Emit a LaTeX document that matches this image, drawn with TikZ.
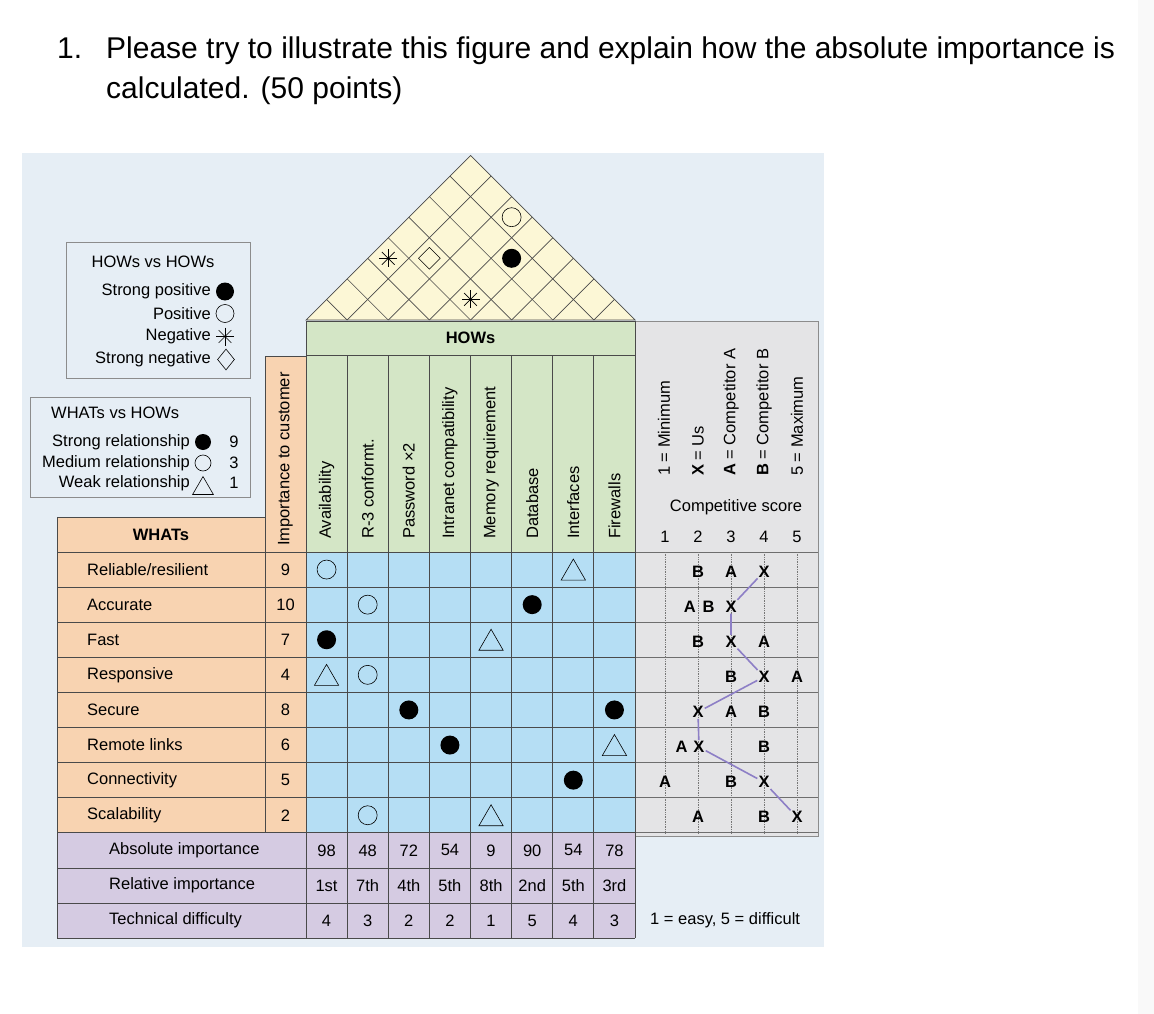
\documentclass[tikz,border=0pt]{standalone}
\usepackage{fontspec}
\setmainfont{Liberation Sans}
\usetikzlibrary{shapes.geometric}

\definecolor{pagebg}{HTML}{E6EEF5}
\definecolor{sidegray}{HTML}{F9F9F9}
\definecolor{roofyellow}{HTML}{FCF7D6}
\definecolor{howgreen}{HTML}{D4E6C6}
\definecolor{whatorange}{HTML}{F8D3B1}
\definecolor{cellblue}{HTML}{B5DEF4}
\definecolor{rowpurple}{HTML}{D5CBE2}
\definecolor{scoregray}{HTML}{E4E4E6}
\definecolor{gridline}{HTML}{4A4A4A}
\definecolor{boxgray}{HTML}{8C8C8C}
\definecolor{scorepurple}{HTML}{8D7FC6}

% column / row centres of the house (picture units = pixels)
\newcommand{\howcol}[1]{(306+41.125*(#1-0.5))}
\newcommand{\whatrow}[1]{(552+35.1*(#1-0.5))}
\newcommand{\scorecol}[1]{(665+33*(#1-1))}
\newcommand{\roofx}[2]{(306+41.125*(#1+#2-1)/2)}
\newcommand{\roofy}[2]{(320-20.5625*(#2-#1))}

\begin{document}
\begin{tikzpicture}[
    x=1pt, y=-1pt,
    font=\fontsize{16.5}{19}\selectfont,
    every node/.style={inner sep=1pt},
    title/.style={font=\fontsize{30}{34}\selectfont, anchor=base west, inner sep=0pt},
    hoqline/.style={draw=gridline, line width=0.8pt},
    roofline/.style={draw=gridline, line width=0.7pt},
    compline/.style={draw=gridline!80, line width=0.8pt},
    dotcol/.style={draw=gridline!75, densely dotted, line width=0.7pt},
    legbox/.style={draw=boxgray, fill=pagebg, line width=0.9pt},
    headtxt/.style={rotate=90, anchor=west},
    strongrel/.style={circle, fill=black, minimum size=19pt, inner sep=0pt},
    mediumrel/.style={circle, draw, line width=0.6pt, minimum size=19pt, inner sep=0pt},
    weakrel/.style={regular polygon, regular polygon sides=3, draw, line width=0.6pt,
                    minimum size=28pt, inner sep=0pt, yshift=-3.5pt},
    corrneg/.style={circle, minimum size=20pt, inner sep=0pt,
                    path picture={\foreach \a in {0,45,90,135}
                      \draw[line width=0.7pt] ([shift={(\a:9pt)}]path picture bounding box.center)
                        -- ([shift={(\a+180:9pt)}]path picture bounding box.center);}},
    corrstrongneg/.style={diamond, draw, line width=0.6pt, minimum size=22pt, inner sep=0pt},
    scoreletter/.style={font=\fontsize{16.5}{19}\selectfont\bfseries, inner sep=1pt},
    scoreline/.style={draw=scorepurple, line width=1.6pt},
  ]

  % ===== page and question =====
  \fill[white] (0,0) rectangle (1154,1014);
  \fill[sidegray] (1138,0) rectangle (1154,1014);
  \node[title] (qnum)  at (57,59)  {1.};
  \node[title] (qline) at (106,59) {Please try to illustrate this figure and explain how the absolute importance is};
  \node[title] (qrest) at (106,99) {calculated. (50 points)};

  % ===== figure background =====
  \fill[pagebg] (22,153) rectangle (824,947);

  % ===== legends =====
  \draw[legbox] (66,242) rectangle (250,378);
  \node (howleg) at (153,262) {HOWs vs HOWs};
  \node[anchor=east] (sp-txt) at (212,291.5) {Strong positive};
  \node[anchor=east] (po-txt) at (212,313.5) {Positive};
  \node[anchor=east] (ng-txt) at (212,336.5) {Negative};
  \node[anchor=east] (sn-txt) at (212,359.5) {Strong negative};
  \node[strongrel, minimum size=18pt] (sp-sym) at (225,291.5) {};
  \node[mediumrel, minimum size=18pt] (po-sym) at (225,313.5) {};
  \node[corrneg] (ng-sym) at (225,336.5) {};
  \node[corrstrongneg, minimum width=17pt, minimum height=21pt] (sn-sym) at (226,359.5) {};

  \draw[legbox] (30,397) rectangle (250,497);
  \node[anchor=west] (whatleg) at (50,412.5) {WHATs vs HOWs};
  \node[anchor=east] (sr-txt) at (191,442) {Strong relationship};
  \node[anchor=east] (mr-txt) at (191,463) {Medium relationship};
  \node[anchor=east] (wr-txt) at (191,483) {Weak relationship};
  \node[strongrel, minimum size=16pt] (sr-sym) at (203,442) {};
  \node[mediumrel, minimum size=16pt] (mr-sym) at (203,463) {};
  \node[weakrel, minimum size=24pt] (wr-sym) at (203,485) {};
  \node (sr-val) at (234,442) {9};
  \node (mr-val) at (234,463) {3};
  \node (wr-val) at (234,483) {1};

  % ===== competitive score panel =====
  \filldraw[fill=scoregray, draw=boxgray, line width=0.9pt] (635,321) rectangle (818,836);
  \foreach \k in {0,...,8}
    \draw[compline] (635,{552+35.1*\k}) -- (818,{552+35.1*\k});
  \foreach \s in {1,...,5}
    \draw[dotcol] ({\scorecol{\s}},552) -- ({\scorecol{\s}},832.8);

  \node[headtxt] (cl-1) at (664,477) {1 = Minimum};
  \node[headtxt] (cl-2) at (698,477) {\textbf{X} = Us};
  \node[headtxt] (cl-3) at (731,477) {\textbf{A} = Competitor A};
  \node[headtxt] (cl-4) at (764,477) {\textbf{B} = Competitor B};
  \node[headtxt] (cl-5) at (797,477) {5 = Maximum};
  \node (compscore) at (736,507) {Competitive score};
  \foreach \s in {1,...,5}
    \node (cs-\s) at ({\scorecol{\s}},537) {\s};

  % ===== roof (HOWs vs HOWs) =====
  \filldraw[fill=roofyellow, roofline] (306,320) -- (470.5,155.5) -- (635,320) -- cycle;
  \foreach \k in {1,...,7} {
    \pgfmathsetmacro\bx{306+41.125*\k}
    \draw[roofline] (\bx,320) -- ++({(635-\bx)/2},{-(635-\bx)/2});
    \draw[roofline] (\bx,320) -- ++({-(\bx-306)/2},{-(\bx-306)/2});
  }
  \node[corrneg]       (r-4-5) at ({\roofx{4}{5}},{\roofy{4}{5}}) {};
  \node[corrneg]       (r-1-4) at ({\roofx{1}{4}},{\roofy{1}{4}}) {};
  \node[corrstrongneg] (r-2-5) at ({\roofx{2}{5}},{\roofy{2}{5}}) {};
  \node[strongrel]     (r-4-7) at ({\roofx{4}{7}},{\roofy{4}{7}}) {};
  \node[mediumrel]     (r-3-8) at ({\roofx{3}{8}},{\roofy{3}{8}}) {};

  % ===== coloured blocks =====
  \fill[howgreen]    (306,321) rectangle (635,552);
  \fill[whatorange]  (265,356) rectangle (306,832.8);
  \fill[whatorange]  (57,516.9) rectangle (265,832.8);
  \fill[cellblue]    (306,552) rectangle (635,832.8);
  \fill[rowpurple]   (57,832.8) rectangle (635,938.1);

  % ===== grid =====
  \draw[hoqline] (57,516.9) -- (265,516.9);
  \foreach \k in {0,...,11}
    \draw[hoqline] (57,{552+35.1*\k}) -- (635,{552+35.1*\k});
  \draw[hoqline] (306,321) -- (635,321);
  \draw[hoqline] (306,355) -- (635,355);
  \draw[hoqline] (265,356) -- (306,356);
  \draw[hoqline] (57,516.9) -- (57,938.1);
  \draw[hoqline] (265,356) -- (265,832.8);
  \draw[hoqline] (306,321) -- (306,938.1);
  \draw[hoqline] (635,321) -- (635,938.1);
  \foreach \k in {1,...,7}
    \draw[hoqline] ({306+41.125*\k},355) -- ({306+41.125*\k},938.1);

  % ===== headers =====
  \node (hows) at (470.5,338) {\bfseries HOWs};
  \node[headtxt] (impcust) at (285.5,547) {Importance to customer};
  \foreach \how [count=\c] in {Availability, R-3 conformt., Password ×2, Intranet compatibility,
                               Memory requirement, Database, Interfaces, Firewalls}
    \node[headtxt] (how-\c) at ({\howcol{\c}},540) {\how};
  \node (whats) at (161,534.5) {\bfseries WHATs};

  % ===== WHATs and importance =====
  \foreach \what [count=\r] in {Reliable/resilient, Accurate, Fast, Responsive,
                                Secure, Remote links, Connectivity, Scalability}
    \node[anchor=west] (what-\r) at (86,{\whatrow{\r}}) {\what};
  \foreach \imp [count=\r] in {9,10,7,4,8,6,5,2}
    \node (imp-\r) at (285.5,{\whatrow{\r}}) {\imp};

  % ===== relationship matrix =====
  \foreach \r/\c/\kind in {1/1/mediumrel, 1/7/weakrel, 2/2/mediumrel, 2/6/strongrel,
                           3/1/strongrel, 3/5/weakrel, 4/1/weakrel, 4/2/mediumrel,
                           5/3/strongrel, 5/8/strongrel, 6/4/strongrel, 6/8/weakrel,
                           7/7/strongrel, 8/2/mediumrel, 8/5/weakrel}
    \node[\kind] (rel-\r-\c) at ({\howcol{\c}},{\whatrow{\r}}) {};

  % ===== bottom rows =====
  \node[anchor=west] (absimp) at (108,{\whatrow{9}})  {Absolute importance};
  \node[anchor=west] (relimp) at (108,{\whatrow{10}}) {Relative importance};
  \node[anchor=west] (techdf) at (108,{\whatrow{11}}) {Technical difficulty};
  \foreach \val [count=\c] in {98,48,72,54,9,90,54,78}
    \node (abs-\c) at ({\howcol{\c}},{\whatrow{9}}) {\val};
  \foreach \val [count=\c] in {1st,7th,4th,5th,8th,2nd,5th,3rd}
    \node (rel-\c) at ({\howcol{\c}},{\whatrow{10}}) {\val};
  \foreach \val [count=\c] in {4,3,2,2,1,5,4,3}
    \node (dif-\c) at ({\howcol{\c}},{\whatrow{11}}) {\val};
  \node[anchor=west] (difkey) at (649,{\whatrow{11}}) {1 = easy, 5 = difficult};

  % ===== competitive ratings =====
  \foreach \r/\s/\l in {1/2/B, 1/3/A, 1/4/X, 2/1.75/A, 2/2.32/B, 2/3/X,
                        3/2/B, 3/3/X, 3/4/A, 4/3/B, 4/4/X, 4/5/A,
                        5/2/X, 5/3/A, 5/4/B, 6/1.5/A, 6/2.03/X, 6/4/B,
                        7/1/A, 7/3/B, 7/4/X, 8/2/A, 8/4/B, 8/5/X}
    \node[scoreletter] (\l-\r) at ({\scorecol{\s}},{\whatrow{\r}+2}) {\l};
  \draw[scoreline] (X-1) -- (X-2) -- (X-3) -- (X-4) -- (X-5) -- (X-6) -- (X-7) -- (X-8);

\end{tikzpicture}
\end{document}
